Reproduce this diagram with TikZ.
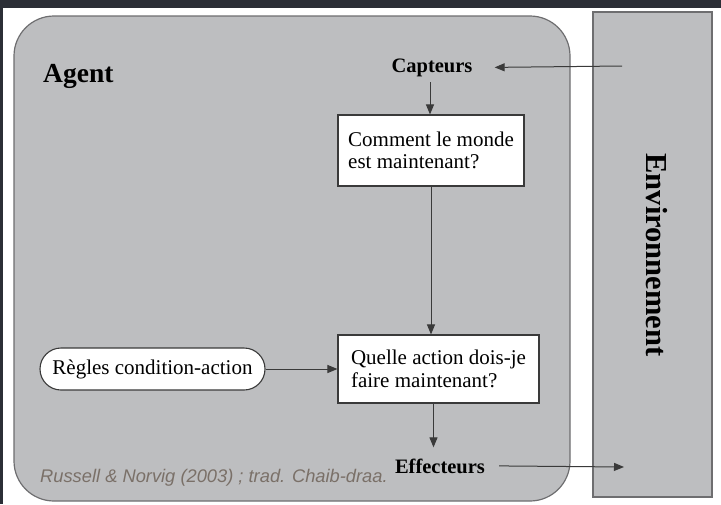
\documentclass[tikz,border=0pt]{standalone}
\usepackage{fontspec}
\setmainfont{Liberation Serif}
\newfontfamily\citefont{Liberation Sans}
\usetikzlibrary{arrows.meta}
\definecolor{panel}{HTML}{BDBEC0}
\definecolor{frame}{HTML}{2B2E36}
\definecolor{edge}{HTML}{3A3A3A}
\definecolor{outline}{HTML}{6E6E70}
\definecolor{citecol}{HTML}{7A7068}
\begin{document}
\begin{tikzpicture}[x=1pt,y=-1pt,
  arr/.style={draw=edge, line width=1pt, -{Triangle[length=10pt,width=8pt]}},
  region/.style={draw=outline, line width=1.2pt, fill=panel, inner sep=0pt},
  qbox/.style={draw=edge, line width=1.1pt, fill=white, align=left,
    font=\fontsize{21}{22.5}\selectfont, inner sep=0pt},
  rulebox/.style={draw=edge, line width=1.1pt, fill=white, rounded corners=21pt,
    font=\fontsize{21}{22}\selectfont, inner sep=0pt,
    minimum width=225pt, minimum height=42pt},
  port/.style={font=\fontsize{20.5}{22}\selectfont\bfseries},
]
% page and dark frame strips
\useasboundingbox (0,0) rectangle (721,504);
\fill[white] (0,0) rectangle (721,504);
\fill[frame] (0,0) rectangle (721,7.5);
\fill[frame] (0,0) rectangle (3,504);

% agent and environment panels
\node[region, rounded corners=40pt, minimum width=556pt, minimum height=485pt]
  (agent) at (292,258.5) {};
\node[region, minimum width=119pt, minimum height=485pt] (env) at (652.5,254.5) {};
\node[rotate=-90, font=\fontsize{30.5}{32}\selectfont\bfseries] (envlabel)
  at (657,255) {Environnement};

\node[anchor=base west, inner sep=0pt, font=\fontsize{27.5}{30}\selectfont\bfseries]
  (agentlabel) at (43,82) {Agent};

% sensors and effectors
\node[port, anchor=base, inner xsep=22pt, inner ysep=5.5pt] (capt) at (432,72) {Capteurs};
\node[port, anchor=base, inner xsep=14pt, inner ysep=11pt] (eff) at (440,473) {Effecteurs};
\coordinate (sensin) at (622,66);
\coordinate (effout) at (624,467);

% decision boxes
\node[qbox, minimum width=186pt, minimum height=71pt] (world) at (431,150.5)
  {Comment le monde\\est maintenant?};
\node[qbox, minimum width=201pt, minimum height=68pt] (act) at (438.5,369)
  {Quelle action dois-je\\faire maintenant?};
\node[rulebox] (rules) at (152.5,369) {Règles condition-action};

% connectors
\draw[arr] (sensin) -- (capt.east);
\draw[arr] ([xshift=-2pt]capt.south) -- ([xshift=-2pt]capt.south |- world.north);
\draw[arr] (world.south) -- (world.south |- act.north);
\draw[arr] (rules.east) -- (rules.east -| act.west);
\draw[arr] ([xshift=-5pt]act.south) -- ([xshift=-5pt]act.south |- eff.north);
\draw[arr] (eff.east) -- (effout);

% source note
\node[anchor=base west, inner sep=0pt, text=citecol,
  font=\citefont\itshape\fontsize{18.3}{20}\selectfont] (cite) at (40,482)
  {Russell \& Norvig (2003) ; trad. Chaib-draa.};
\end{tikzpicture}
\end{document}
